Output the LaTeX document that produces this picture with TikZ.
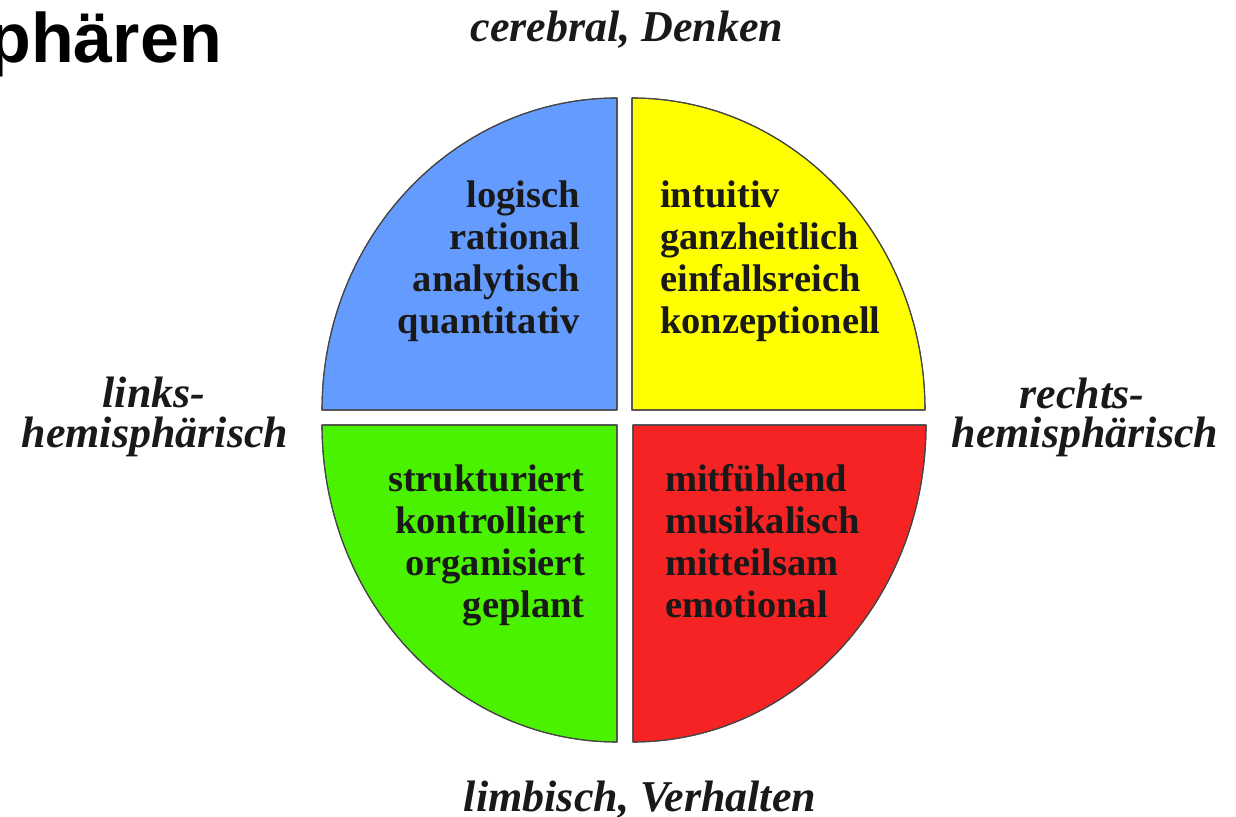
\documentclass[tikz,border=0pt]{standalone}
\usepackage{fontspec}
\setmainfont{Liberation Serif}
\newfontfamily\titlefont{Liberation Sans}
\definecolor{qblue}{RGB}{100,155,255}
\definecolor{qyellow}{RGB}{255,255,0}
\definecolor{qgreen}{RGB}{75,242,0}
\definecolor{qred}{RGB}{245,35,35}
\definecolor{qedge}{RGB}{70,70,70}
\begin{document}
\begin{tikzpicture}[x=1pt,y=1pt,
  quad/.style={draw=qedge,line width=1.1pt,line join=round},
  qtext/.style={inner sep=0pt,font=\fontsize{38.5}{42}\selectfont\bfseries,text=black!90},
  side/.style={inner sep=0pt,font=\fontsize{44}{40}\selectfont\bfseries\itshape,text=black!90},
  title/.style={inner sep=0pt,font=\titlefont\fontsize{70}{80}\selectfont\bfseries}]
\useasboundingbox (0,0) rectangle (1236,816);
% quadrants
\fill[quad,fill=qblue] (617,406) -- (617,718) arc[start angle=90,end angle=180,x radius=295,y radius=312] -- cycle;
\fill[quad,fill=qyellow] (632,406) -- (632,718) arc[start angle=90,end angle=0,x radius=293,y radius=312] -- cycle;
\fill[quad,fill=qgreen] (617,391) -- (322,391) arc[start angle=180,end angle=270,x radius=295,y radius=317] -- cycle;
\fill[quad,fill=qred] (633,391) -- (633,74) arc[start angle=270,end angle=360,x radius=293,y radius=317] -- cycle;
\draw[quad] (617,406) -- (617,718) arc[start angle=90,end angle=180,x radius=295,y radius=312] -- cycle;
\draw[quad] (632,406) -- (632,718) arc[start angle=90,end angle=0,x radius=293,y radius=312] -- cycle;
\draw[quad] (617,391) -- (322,391) arc[start angle=180,end angle=270,x radius=295,y radius=317] -- cycle;
\draw[quad] (633,391) -- (633,74) arc[start angle=270,end angle=360,x radius=293,y radius=317] -- cycle;
% title
\node[title,anchor=base east] (title) at (222,753) {phären};
% quadrant texts
\node[qtext,anchor=base east] (b1) at (580,608) {logisch};
\node[qtext,anchor=base east] (b2) at (580,566) {rational};
\node[qtext,anchor=base east] (b3) at (580,524) {analytisch};
\node[qtext,anchor=base east] (b4) at (580,482) {quantitativ};
\node[qtext,anchor=base west] (y1) at (660,608) {intuitiv};
\node[qtext,anchor=base west] (y2) at (660,566) {ganzheitlich};
\node[qtext,anchor=base west] (y3) at (660,524) {einfallsreich};
\node[qtext,anchor=base west] (y4) at (660,482) {konzeptionell};
\node[qtext,anchor=base east] (g1) at (585,324) {strukturiert};
\node[qtext,anchor=base east] (g2) at (585,282) {kontrolliert};
\node[qtext,anchor=base east] (g3) at (585,240) {organisiert};
\node[qtext,anchor=base east] (g4) at (585,198) {geplant};
\node[qtext,anchor=base west] (r1) at (665,324) {mitfühlend};
\node[qtext,anchor=base west] (r2) at (665,282) {musikalisch};
\node[qtext,anchor=base west] (r3) at (665,240) {mitteilsam};
\node[qtext,anchor=base west] (r4) at (665,198) {emotional};
% side labels
\node[side,anchor=base] (top) at (627,774) {cerebral, Denken};
\node[side,anchor=base] (bottom) at (640,5) {limbisch, Verhalten};
\node[side,anchor=base] (left1) at (154,408) {links-};
\node[side,anchor=base] (left2) at (155,368) {hemisphärisch};
\node[side,anchor=base] (right1) at (1082,407) {rechts-};
\node[side,anchor=base] (right2) at (1085,368) {hemisphärisch};
\end{tikzpicture}
\end{document}
